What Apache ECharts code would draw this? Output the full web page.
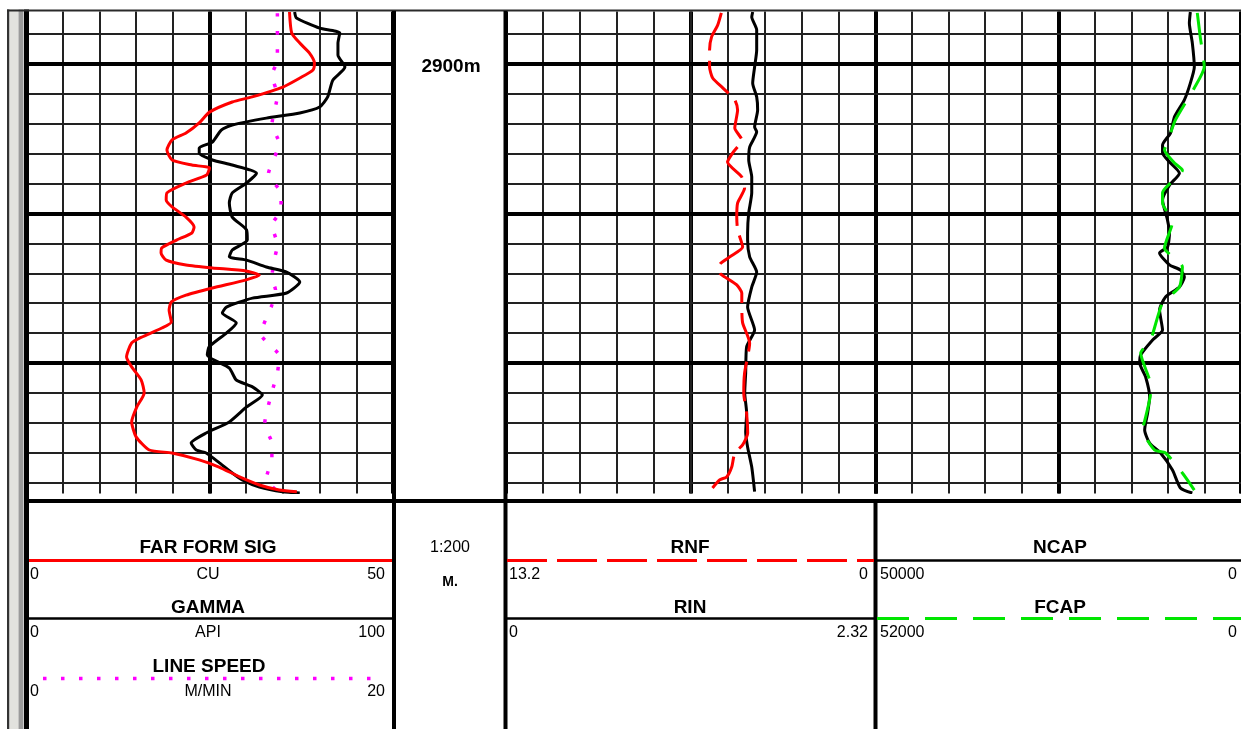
<!DOCTYPE html>
<html>
<head>
<meta charset="utf-8">
<script src="https://cdn.jsdelivr.net/npm/echarts@6/dist/echarts.min.js"></script>
<style>
html, body { margin: 0; padding: 0; background: #fff; }
#chart { width: 1241px; height: 729px; }
</style>
</head>
<body>
<div id="chart"></div>
<script>
// depth grid (metres), heavy line every 5 m
const depthLines = [2899, 2900, 2901, 2902, 2903, 2904, 2905, 2906, 2907, 2908, 2909, 2910, 2911, 2912, 2913, 2914];
const heavyDepths = [2900, 2905, 2910];
const depthMin = 2898.244;
const depthMax = 2914.365;

// track 1 : [value, depth]
const farFormSig = [
    [35.9, 2898.26], [36.2, 2898.96], [37.3, 2899.30], [38.6, 2899.63], [39.3, 2899.97],
    [39.1, 2900.20], [37.3, 2900.47], [35.0, 2900.77], [30.8, 2901.10], [28.1, 2901.27],
    [25.0, 2901.61], [23.6, 2901.97], [21.8, 2902.31], [19.9, 2902.54], [19.2, 2902.88],
    [19.9, 2903.21], [22.6, 2903.38], [25.0, 2903.48], [24.6, 2903.71], [21.8, 2903.98],
    [19.2, 2904.31], [19.1, 2904.55], [19.9, 2904.78], [21.8, 2905.12], [22.9, 2905.45],
    [22.6, 2905.65], [20.5, 2905.89], [18.5, 2906.15], [18.4, 2906.32], [19.1, 2906.56],
    [21.8, 2906.72], [25.4, 2906.82], [30.0, 2906.92], [31.8, 2907.06], [30.0, 2907.22],
    [25.4, 2907.49], [21.8, 2907.73], [19.8, 2907.96], [19.5, 2908.23], [19.8, 2908.63],
    [18.5, 2908.83], [15.8, 2909.13], [14.4, 2909.33], [13.7, 2909.80], [14.4, 2910.13],
    [15.7, 2910.57], [16.1, 2911.00], [15.1, 2911.47], [14.4, 2911.97], [15.0, 2912.47],
    [16.8, 2912.91], [19.9, 2913.01], [23.6, 2913.24], [26.3, 2913.48], [29.1, 2913.81],
    [31.8, 2914.08], [34.5, 2914.25], [36.9, 2914.31]
];
const gamma = [
    [73.2, 2898.26], [73.7, 2898.46], [80.0, 2898.80], [85.5, 2898.96], [85.0, 2899.30],
    [85.0, 2899.70], [86.9, 2900.10], [83.6, 2900.54], [82.2, 2901.10], [80.0, 2901.44],
    [74.6, 2901.64], [65.5, 2901.81], [56.2, 2902.04], [53.2, 2902.21], [50.8, 2902.61],
    [47.2, 2902.81], [47.2, 2902.98], [50.8, 2903.21], [56.2, 2903.38], [62.8, 2903.65],
    [60.1, 2903.98], [56.2, 2904.31], [55.4, 2904.65], [56.2, 2905.12], [60.1, 2905.55],
    [60.3, 2905.89], [56.2, 2906.22], [55.4, 2906.45], [60.1, 2906.56], [65.5, 2906.79],
    [71.0, 2906.96], [74.6, 2907.29], [71.0, 2907.66], [61.7, 2907.83], [54.6, 2908.13],
    [53.5, 2908.33], [57.3, 2908.66], [54.6, 2909.00], [49.9, 2909.46], [49.4, 2909.73],
    [55.4, 2910.17], [57.3, 2910.57], [61.7, 2910.80], [64.4, 2911.07], [60.1, 2911.47],
    [55.4, 2911.97], [49.1, 2912.34], [45.0, 2912.68], [46.4, 2912.91], [49.1, 2913.01],
    [52.7, 2913.34], [56.2, 2913.68], [58.9, 2913.91], [63.6, 2914.15], [69.9, 2914.31],
    [74.6, 2914.35]
];
const lineSpeed = [
    [13.7, 2898.30], [13.7, 2899.87], [13.4, 2900.37], [13.7, 2901.04], [13.4, 2902.04],
    [13.8, 2902.64], [13.2, 2903.71], [13.9, 2904.31], [13.9, 2904.88], [13.4, 2905.38],
    [13.7, 2906.05], [13.5, 2906.62], [13.4, 2907.16], [13.6, 2907.56], [13.4, 2908.06],
    [12.8, 2909.03], [13.8, 2909.77], [13.7, 2910.33], [13.4, 2910.97], [13.0, 2912.07],
    [13.4, 2912.68], [13.4, 2913.18], [13.1, 2913.85], [13.7, 2914.30]
];

// track 2
const rnf = [
    [5.50, 2898.29], [5.63, 2898.70], [5.85, 2899.10], [5.92, 2899.53], [5.92, 2900.10],
    [5.81, 2900.47], [5.45, 2900.80], [5.02, 2901.20], [4.92, 2901.54], [5.02, 2902.14],
    [4.77, 2902.54], [5.10, 2902.98], [5.28, 2903.28], [4.77, 2903.78], [4.67, 2904.15],
    [4.92, 2904.65], [4.95, 2905.12], [4.92, 2905.55], [4.74, 2906.12], [5.20, 2906.45],
    [5.56, 2906.72], [5.56, 2906.99], [5.38, 2907.12], [4.95, 2907.39], [4.77, 2907.66],
    [4.77, 2908.13], [4.74, 2908.66], [4.49, 2909.33], [4.67, 2910.33], [4.70, 2911.00],
    [4.60, 2911.67], [4.56, 2912.34], [4.74, 2912.74], [5.02, 2913.01], [5.13, 2913.48],
    [5.31, 2913.81], [5.56, 2913.91], [5.92, 2914.30]
];
const rin = [
    [1.550, 2898.26], [1.544, 2898.43], [1.575, 2898.86], [1.575, 2899.53], [1.562, 2900.10],
    [1.550, 2900.64], [1.575, 2901.10], [1.581, 2901.54], [1.562, 2902.11], [1.575, 2902.27],
    [1.531, 2902.78], [1.525, 2903.21], [1.544, 2903.78], [1.544, 2904.31], [1.525, 2904.98],
    [1.518, 2905.65], [1.518, 2905.89], [1.531, 2906.45], [1.575, 2906.96], [1.544, 2907.46],
    [1.518, 2908.13], [1.562, 2908.90], [1.512, 2909.46], [1.506, 2910.33], [1.500, 2911.00],
    [1.512, 2911.67], [1.506, 2912.31], [1.518, 2912.81], [1.544, 2913.48], [1.562, 2914.30]
];

// track 3
const ncap = [
    [6929, 2898.26], [7065, 2898.63], [6657, 2899.30], [6385, 2900.10], [6929, 2900.64],
    [7744, 2901.20], [9103, 2901.77], [9646, 2902.31], [10734, 2902.71], [10734, 2902.98],
    [9646, 2903.31], [8424, 2903.65], [9782, 2904.05], [10734, 2904.55], [10054, 2905.22],
    [9782, 2905.65], [10054, 2906.12], [11141, 2906.32], [9782, 2906.72], [8288, 2906.89],
    [7744, 2907.12], [8424, 2907.46], [10326, 2907.79], [11141, 2908.23], [10734, 2908.90],
    [12092, 2909.23], [13724, 2909.73], [13859, 2910.00], [13044, 2910.47], [12500, 2911.14],
    [12772, 2911.67], [13180, 2912.24], [12500, 2912.68], [11006, 2913.01], [9375, 2913.58],
    [8288, 2914.18], [6657, 2914.35]
];
const fcap = [
    [6219, 2898.29], [5795, 2899.10], [5230, 2900.10], [6643, 2900.80], [9327, 2901.87],
    [10458, 2902.61], [10882, 2902.88], [9468, 2903.31], [8338, 2903.55], [11165, 2904.31],
    [11165, 2904.65], [9751, 2905.28], [10882, 2906.15], [8338, 2906.79], [8762, 2907.46],
    [11165, 2907.99], [12861, 2909.23], [14274, 2909.67], [13003, 2910.57], [12861, 2911.00],
    [13568, 2911.81], [13992, 2912.24], [12296, 2912.91], [10741, 2913.01], [8338, 2913.68],
    [6643, 2914.25]
];

const thinGrid = { color: '#222', width: 2, type: 'solid' };
const heavyGrid = { color: '#000', width: 4, type: 'solid' };

function vAxis(gridIndex, min, max, inverse, interval, split) {
    return {
        type: 'value', gridIndex: gridIndex, min: min, max: max, inverse: inverse,
        interval: interval,
        axisLine: { show: false }, axisTick: { show: false }, axisLabel: { show: false },
        splitLine: { show: !!split, lineStyle: split || thinGrid }
    };
}

function depthGrid(xIdx, yIdx) {
    return {
        type: 'line', data: [], xAxisIndex: xIdx, yAxisIndex: yIdx, z: 1, silent: true,
        markLine: {
            silent: true, z: 1, symbol: ['none', 'none'], label: { show: false },
            animation: false,
            data: depthLines.map(function (d) {
                return { yAxis: d, lineStyle: heavyDepths.indexOf(d) >= 0 ? heavyGrid : thinGrid };
            })
        }
    };
}

function curve(name, data, xIdx, yIdx, style, z) {
    return {
        name: name, type: 'line', data: data, xAxisIndex: xIdx, yAxisIndex: yIdx,
        symbol: 'none', smooth: 0.2, z: z, lineStyle: style
    };
}

const FONT = '"Liberation Sans", Arial, sans-serif';
function title(text, x, y) {
    return { type: 'text', z: 10, style: { text: text, x: x, y: y, fill: '#000', font: 'bold 19px ' + FONT, align: 'center', verticalAlign: 'middle' } };
}
function label(text, x, y, align) {
    return { type: 'text', z: 10, style: { text: text, x: x, y: y, fill: '#000', font: '16px ' + FONT, align: align, verticalAlign: 'middle' } };
}
function hline(x1, x2, y, color, width, dash) {
    return { type: 'line', z: 10, shape: { x1: x1, y1: y, x2: x2, y2: y }, style: { stroke: color, lineWidth: width, lineDash: dash || null } };
}
function vline(x, y1, y2, color, width) {
    return { type: 'line', z: 10, shape: { x1: x, y1: y1, x2: x, y2: y2 }, style: { stroke: color, lineWidth: width } };
}

const option = {
    animation: false,
    backgroundColor: '#fff',
    grid: [
        { left: 26, top: 11.5, width: 367, height: 482 },
        { left: 505.5, top: 11.5, width: 370, height: 482 },
        { left: 875.5, top: 11.5, width: 370, height: 482 }
    ],
    xAxis: [
        vAxis(0, 0, 50, false, 5, thinGrid),          // 0 CU
        vAxis(0, 0, 100, false, 50, heavyGrid),       // 1 API
        vAxis(0, 0, 20, false, 2, null),              // 2 M/MIN
        vAxis(1, 0, 13.2, true, 6.6, heavyGrid),      // 3 RNF
        vAxis(1, 0, 2.32, false, 0.232, thinGrid),    // 4 RIN
        vAxis(2, 0, 50000, true, 5000, thinGrid),     // 5 NCAP
        vAxis(2, 0, 52000, true, 26000, heavyGrid)    // 6 FCAP
    ],
    yAxis: [0, 1, 2].map(function (g) {
        return {
            type: 'value', gridIndex: g, inverse: true, min: depthMin, max: depthMax,
            axisLine: { show: false }, axisTick: { show: false }, axisLabel: { show: false },
            splitLine: { show: false }
        };
    }),
    series: [
        depthGrid(0, 0),
        depthGrid(3, 1),
        depthGrid(5, 2),
        curve('LINE SPEED', lineSpeed, 2, 0, { color: '#ff00ff', width: 3.5, type: [3.5, 14.5], cap: 'butt' }, 4),
        curve('GAMMA', gamma, 1, 0, { color: '#000', width: 3 }, 5),
        curve('FAR FORM SIG', farFormSig, 0, 0, { color: '#ff0000', width: 3 }, 6),
        curve('RIN', rin, 4, 1, { color: '#000', width: 3 }, 5),
        curve('RNF', rnf, 3, 1, { color: '#ff0000', width: 3, type: [40, 10] }, 6),
        curve('NCAP', ncap, 5, 2, { color: '#000', width: 3 }, 5),
        curve('FCAP', fcap, 6, 2, { color: '#00e600', width: 3, type: [32, 16] }, 6)
    ],
    graphic: [
        // window frame on the left and top border
        { type: 'rect', z: 9, shape: { x: 7, y: 9.5, width: 2.5, height: 720 }, style: { fill: '#333' } },
        { type: 'rect', z: 9, shape: { x: 9.5, y: 9.5, width: 9, height: 720 }, style: { fill: '#e2e2de' } },
        { type: 'rect', z: 9, shape: { x: 18.5, y: 9.5, width: 5, height: 720 }, style: { fill: '#9a9a9a' } },
        { type: 'rect', z: 9, shape: { x: 24, y: 9.5, width: 5, height: 720 }, style: { fill: '#000' } },
        hline(7, 1241, 10.5, '#2a2a2a', 2),
        // header box
        { type: 'rect', z: 8, shape: { x: 29, y: 494, width: 1212, height: 235 }, style: { fill: '#fff' } },
        hline(24, 1241, 501, '#000', 4),
        vline(394, 11, 729, '#000', 4),
        vline(505.5, 11, 729, '#000', 4),
        vline(875.5, 499, 729, '#000', 4),
        // depth track
        title('2900m', 451, 67),
        label('1:200', 450, 548, 'center'),
        { type: 'text', z: 10, style: { text: 'M.', x: 450, y: 582, fill: '#000', font: 'bold 14px ' + FONT, align: 'center', verticalAlign: 'middle' } },
        // track 1 legend
        title('FAR FORM SIG', 208, 548),
        hline(29, 392, 560.5, '#ff0000', 3),
        label('0', 30, 575, 'left'), label('CU', 208, 575, 'center'), label('50', 385, 575, 'right'),
        title('GAMMA', 208, 608),
        hline(29, 392, 618.5, '#000', 2.5),
        label('0', 30, 633, 'left'), label('API', 208, 633, 'center'), label('100', 385, 633, 'right'),
        title('LINE SPEED', 209, 667),
        hline(43, 383, 678.5, '#ff00ff', 3.5, [3.5, 14.5]),
        label('0', 30, 692, 'left'), label('M/MIN', 208, 692, 'center'), label('20', 385, 692, 'right'),
        // track 2 legend
        title('RNF', 690, 548),
        hline(507, 874, 560.5, '#ff0000', 3, [40, 10]),
        label('13.2', 509, 575, 'left'), label('0', 868, 575, 'right'),
        title('RIN', 690, 608),
        hline(507, 874, 618.5, '#000', 2.5),
        label('0', 509, 633, 'left'), label('2.32', 868, 633, 'right'),
        // track 3 legend
        title('NCAP', 1060, 548),
        hline(877, 1241, 560.5, '#000', 2.5),
        label('50000', 880, 575, 'left'), label('0', 1237, 575, 'right'),
        title('FCAP', 1060, 608),
        hline(877, 1241, 618.5, '#00e600', 3, [32, 16]),
        label('52000', 880, 633, 'left'), label('0', 1237, 633, 'right')
    ]
};

const chart = echarts.init(document.getElementById('chart'));
chart.setOption(option);
window.addEventListener('resize', function () { chart.resize(); });
</script>
</body>
</html>
